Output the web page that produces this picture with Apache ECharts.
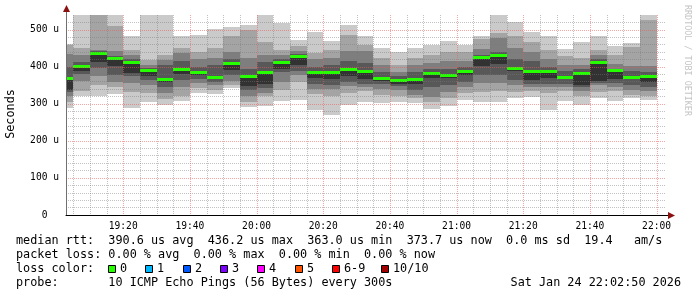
<!DOCTYPE html>
<html><head><meta charset="utf-8">
<script src="https://cdn.jsdelivr.net/npm/echarts@6/dist/echarts.min.js"></script>
<style>html,body{margin:0;padding:0;background:#fff}#c{width:697px;height:297px}</style>
</head><body><div id="c"></div>
<script>
// ---- data (values in microseconds) ----
const binEnds = ['19:05','19:10','19:15','19:20','19:25','19:30','19:35','19:40','19:45','19:50','19:55','20:00',
  '20:05','20:10','20:15','20:20','20:25','20:30','20:35','20:40','20:45','20:50','20:55','21:00',
  '21:05','21:10','21:15','21:20','21:25','21:30','21:35','21:40','21:45','21:50','21:55','22:00'];
// sorted ping RTTs per 5-minute step (rank 1 = fastest, rank 10 = slowest)
const ping01 = [290,320,322,326,290,305,297,308,329,326,344,292,293,308,311,284,269,297,306,302,306,302,287,293,311,306,304,315,318,284,309,297,315,309,315,311];
const ping02 = [306,335,351,345,332,330,312,320,342,338,350,305,322,338,360,326,320,330,335,325,320,315,305,315,330,331,335,333,335,330,336,322,333,334,325,320];
const ping03 = [322,362,374,360,356,351,330,345,356,350,362,320,330,360,378,340,340,347,345,340,338,325,318,332,345,356,356,350,345,345,345,335,350,345,338,336];
const ping04 = [332,380,396,378,374,365,345,365,368,360,377,338,342,385,390,355,352,358,355,355,348,338,345,350,360,377,378,365,355,355,355,345,356,356,350,345];
const ping05 = [338,388,414,401,383,375,360,380,378,366,392,347,355,394,404,370,366,374,366,362,355,355,370,370,378,401,408,390,365,369,366,352,363,368,366,360];
const ping06 = [372,405,438,427,416,392,368,395,389,374,411,376,388,414,432,390,387,396,391,372,366,368,384,382,390,428,432,399,390,390,374,385,416,394,375,376];
const ping07 = [400,413,442,430,420,396,405,416,400,405,420,395,412,420,436,400,405,415,410,385,375,385,395,395,400,432,440,420,415,400,390,395,420,395,390,385];
const ping08 = [436,432,446,444,432,405,418,438,420,425,440,424,432,432,442,420,425,443,442,405,385,405,410,415,415,448,477,450,440,420,405,405,432,408,401,403];
const ping09 = [458,452,545,509,446,419,432,450,440,450,484,500,468,446,455,437,445,487,460,424,405,425,432,440,440,475,491,484,466,446,428,423,446,432,453,527];
const ping10 = [461,545,550,545,482,545,545,482,486,503,508,512,545,518,473,494,469,514,482,450,441,452,460,469,460,484,545,522,493,482,448,467,484,457,464,545];
const medianRtt = [368,402,436,423,413,389,365,392,386,371,408,373,384,411,429,386,384,393,388,368,362,365,381,378,387,425,430,396,387,387,371,382,413,391,371,373];
const xTickLabels = ['19:20','19:40','20:00','20:20','20:40','21:00','21:20','21:40','22:00'];
const yTicks = [0,100,200,300,400,500];
const viewStart = '19:02:50', viewEnd = '22:02:50';
const yMax = 540;
const lossColors = [['0','#26ff00'],['1','#00b8ff'],['2','#0059ff'],['3','#7e00ff'],['4','#ff00ff'],['5','#ff5500'],['6-9','#ff0000'],['10/10','#a10000']];
const legendLine1 = 'median rtt:  390.6 us avg  436.2 us max  363.0 us min  373.7 us now  0.0 ms sd  19.4   am/s';
const legendLine2 = 'packet loss: 0.00 % avg  0.00 % max  0.00 % min  0.00 % now';
const legendLine3 = 'loss color:';
const legendLine4 = 'probe:       10 ICMP Echo Pings (56 Bytes) every 300s';
const stamp = 'Sat Jan 24 22:02:50 2026';
const credit = 'RRDTOOL / TOBI OETIKER';

// ---- build ----
const toSec = s => { const p = s.split(':').map(Number); return p[0]*3600 + p[1]*60 + (p[2]||0); };
const xMin = toSec(viewStart), xMax = toSec(viewEnd);
const ranks = [ping01,ping02,ping03,ping04,ping05,ping06,ping07,ping08,ping09,ping10];
const smokeData = binEnds.map((e, i) => {
  const t1 = toSec(e), t0 = Math.max(xMin, t1 - 300);
  return [t0, t1].concat(ranks.map(r => r[i])).concat([medianRtt[i]]);
});
const gridData = binEnds.map(e => [toSec(e), 0]);
const smokeColors = ['#cacaca','#a4a4a4','#7e7e7e','#585858','#323232'];
const FONT = '"DejaVu Sans Mono", monospace';
const fmtTime = v => { const h = Math.floor(v/3600), m = Math.round((v%3600)/60); return String(h).padStart(2,'0')+':'+String(m).padStart(2,'0'); };

const chart = echarts.init(document.getElementById('c'), null, {renderer:'canvas'});
const graphics = [];
// y axis extension + arrow
graphics.push({type:'line', shape:{x1:66.5,y1:15,x2:66.5,y2:10}, style:{stroke:'#707070',lineWidth:1}, z:10});
graphics.push({type:'polygon', shape:{points:[[66.5,5],[63,12],[70,12]]}, style:{fill:'#8b1010'}, z:10});
graphics.push({type:'line', shape:{x1:666,y1:215.5,x2:670,y2:215.5}, style:{stroke:'#000',lineWidth:1}, z:10});
graphics.push({type:'polygon', shape:{points:[[675,215.5],[668,212],[668,219]]}, style:{fill:'#8b1010'}, z:10});
// axis title
graphics.push({type:'text', x:11, y:114, rotation:Math.PI/2, style:{text:'Seconds', fontFamily:FONT, fontSize:11.8, fill:'#000', align:'center', verticalAlign:'middle'}});
// credit
graphics.push({type:'text', x:687, y:5, rotation:-Math.PI/2, style:{text:credit, fontFamily:FONT, fontSize:8.4, fill:'#c4c4c4', align:'left', verticalAlign:'middle'}});
// legend lines
const lineY = [241, 255, 269, 283];
[legendLine1, legendLine2, legendLine3, legendLine4].forEach((t, i) => {
  graphics.push({type:'text', x:16, y:lineY[i], style:{text:t, fontFamily:FONT, fontSize:11.8, fill:'#000', align:'left', verticalAlign:'middle'}});
});
graphics.push({type:'text', x:681, y:lineY[3], style:{text:stamp, fontFamily:FONT, fontSize:11.8, fill:'#000', align:'right', verticalAlign:'middle'}});
const boxX = [108, 145.3, 182.6, 220, 257.3, 294.6, 332, 381];
lossColors.forEach((lc, i) => {
  graphics.push({type:'rect', shape:{x:Math.round(boxX[i])+0.5, y:265.5, width:7, height:7}, style:{fill:lc[1], stroke:'#000', lineWidth:1}});
  graphics.push({type:'text', x:Math.round(boxX[i])+12, y:lineY[2], style:{text:lc[0], fontFamily:FONT, fontSize:11.8, fill:'#000', align:'left', verticalAlign:'middle'}});
});

const option = {
  animation: false,
  backgroundColor: '#ffffff',
  grid: {left:66, top:15, width:600, height:200, containLabel:false},
  xAxis: {
    type:'value', min:xMin, max:xMax, z:3,
    axisLine:{show:true, lineStyle:{color:'#000', width:1}},
    axisTick:{show:false},
    splitLine:{show:false},
    axisLabel:{customValues: xTickLabels.map(toSec), formatter: v => fmtTime(v), fontFamily:FONT, fontSize:9.6, color:'#000', margin:6}
  },
  yAxis: {
    type:'value', min:0, max:yMax, interval:100, z:3,
    axisLine:{show:true, lineStyle:{color:'#707070', width:1}},
    axisTick:{show:false},
    minorTick:{show:false, splitNumber:5},
    axisLabel:{showMaxLabel:false, formatter: v => v === 0 ? '0  ' : v + ' u', fontFamily:FONT, fontSize:9.6, color:'#000', margin:7},
    splitLine:{show:true, showMaxLine:false, showMinLine:false, lineStyle:{color:'rgba(240,90,90,0.55)', type:[1,1], width:1}},
    minorSplitLine:{show:true, lineStyle:{color:'rgba(120,120,120,0.45)', type:[1,1], width:1}}
  },
  graphic: graphics,
  series: [
    {
      type:'custom', name:'smoke', z:1, clip:true,
      encode:{x:[0,1], y:[2,3,4,5,6,7,8,9,10,11,12]},
      data: smokeData,
      renderItem: (params, api) => {
        const t0 = api.value(0), t1 = api.value(1);
        const children = [];
        for (let k = 0; k < 5; k++) {
          const lo = Math.min(api.value(2 + k), yMax), hi = Math.min(api.value(11 - k), yMax);
          const a = api.coord([t0, hi]), b = api.coord([t1, lo]);
          const x0 = Math.round(a[0]), x1 = Math.round(b[0]);
          const y0 = Math.round(a[1]), y1 = Math.round(b[1]);
          children.push({type:'rect', shape:{x:x0, y:y0, width:x1-x0, height:y1-y0}, style:{fill:smokeColors[k]}});
        }
        const m = api.coord([t0, api.value(12)]), m2 = api.coord([t1, api.value(12)]);
        const mx0 = Math.round(m[0]), mx1 = Math.round(m2[0]);
        children.push({type:'rect', shape:{x:mx0, y:Math.round(m[1]-1.5), width:mx1-mx0, height:3}, style:{fill:'#26ff00'}});
        return {type:'group', children};
      }
    },
    {
      type:'custom', name:'xgrid', z:3, silent:true,
      encode:{x:0, y:1},
      data: gridData,
      renderItem: (params, api) => {
        const t = api.value(0);
        const p = api.coord([t, 0]);
        const cs = params.coordSys;
        const major = t % 1200 === 0;
        const x = Math.round(p[0]) + 0.5;
        return {type:'line', shape:{x1:x, y1:cs.y, x2:x, y2:cs.y+cs.height},
          style:{stroke: major ? 'rgba(240,90,90,0.55)' : 'rgba(120,120,120,0.45)', lineWidth:1, lineDash:[1,1]}};
      }
    }
  ]
};
chart.setOption(option);
</script></body></html>
